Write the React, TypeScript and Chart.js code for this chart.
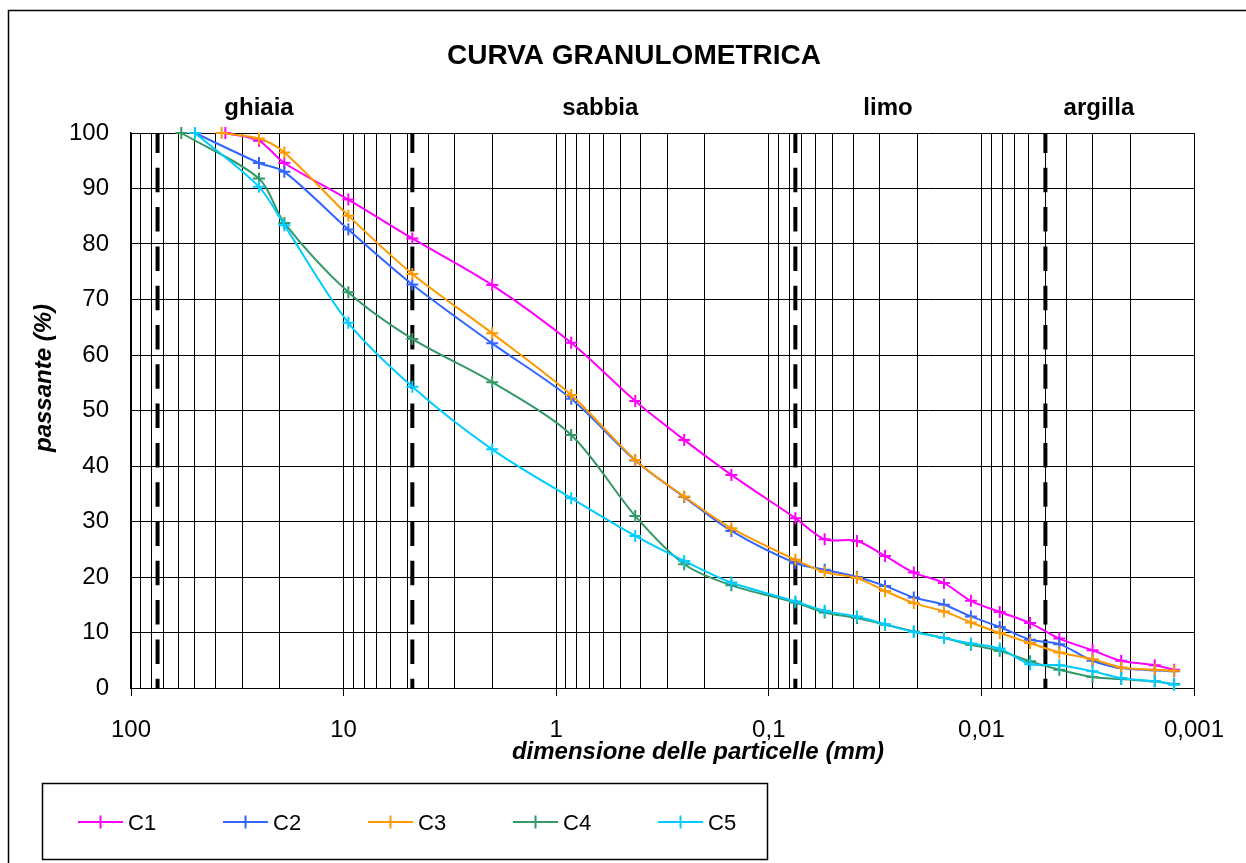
import React, { useEffect, useRef } from 'react';
import { Chart, registerables } from 'chart.js';

Chart.register(...registerables);

const FONT = '"Liberation Sans", Arial, Helvetica, sans-serif';

const chartTitle = 'CURVA GRANULOMETRICA';
const xAxisTitle = 'dimensione delle particelle (mm)';
const yAxisTitle = 'passante (%)';

const seriesNames = ['C1', 'C2', 'C3', 'C4', 'C5'];
const seriesColors = ['#FF00FF', '#3366FF', '#FF9900', '#339966', '#00CCFF'];

// particle size (mm) of the first point (100 % passing) of each series
const firstSizes = [36, 50, 37.5, 58, 50];
// sieve sizes (mm)
const sieveSizes = [25, 19, 9.5, 4.75, 2, 0.85, 0.425, 0.25, 0.15, 0.075];
// sedimentation (hydrometer) sizes (mm)
const hydroSizes = [0.0546, 0.0385, 0.0284, 0.0208, 0.015, 0.0112, 0.0082, 0.0059, 0.0043, 0.003, 0.0022, 0.00153, 0.00124];

// passing percentages: first point, sieves, hydrometer
const c1 = [100, 98.6, 94.6, 88.0, 81.0, 72.6, 62.2, 51.7, 44.7, 38.4, 30.6, 26.8, 26.5, 23.8, 20.8, 18.9, 15.7, 13.7, 11.7, 8.9, 6.8, 4.9, 4.1, 3.3];
const c2 = [100, 94.6, 93.0, 82.6, 72.7, 62.1, 52.1, 41.0, 34.4, 28.3, 22.5, 21.3, 20.0, 18.4, 16.3, 15.0, 12.9, 11.0, 8.7, 7.9, 4.9, 3.6, 3.2, 3.0];
const c3 = [100, 99.0, 96.5, 85.1, 74.6, 63.9, 52.8, 41.1, 34.5, 28.8, 23.1, 20.9, 19.8, 17.5, 15.3, 13.8, 11.8, 9.9, 8.1, 6.4, 5.2, 3.7, 3.3, 3.1];
const c4 = [100, 91.8, 83.8, 71.3, 62.9, 55.1, 45.6, 31.0, 22.3, 18.5, 15.4, 13.6, 12.6, 11.4, 10.2, 9.0, 7.8, 6.7, 4.8, 3.3, 2.0, 1.6, 1.2, 0.7];
const c5 = [100, 90.3, 83.4, 65.8, 54.3, 43.0, 34.2, 27.4, 22.9, 19.0, 15.6, 13.9, 12.9, 11.5, 10.1, 9.0, 8.0, 7.1, 4.3, 4.1, 3.0, 1.8, 1.2, 0.6];
const seriesValues = [c1, c2, c3, c4, c5];

// class boundaries (mm): ghiaia / sabbia / limo / argilla
const limitSizes = [75, 4.75, 0.075, 0.005];
const zoneLabels = ['ghiaia', 'sabbia', 'limo', 'argilla'];
const zoneLabelSizes = [25, 0.62, 0.0275, 0.0028];

// decade tick labels of the x axis
const decadeValues = [100, 10, 1, 0.1, 0.01, 0.001];
const decadeLabels = ['100', '10', '1', '0,1', '0,01', '0,001'];
const minorSteps = [1, 2, 3, 4, 5, 6, 7, 8, 9];

const gridValues: number[] = [100];
decadeValues.slice(1).forEach((d) => {
  minorSteps.forEach((k) => gridValues.push(Number((k * d).toPrecision(10))));
});

const isDecade = (v: number) => decadeValues.findIndex((d) => Math.abs(d - v) / d < 1e-6);

const extrasPlugin = {
  id: 'extras',
  afterDraw(chart: any) {
    const { ctx } = chart;
    const xs = chart.scales.x;
    ctx.save();
    // outer frame
    ctx.strokeStyle = '#000';
    ctx.lineWidth = 1.5;
    ctx.strokeRect(8.5, 10.5, 1400, 1000);

    ctx.fillStyle = '#000';
    ctx.textAlign = 'center';
    ctx.textBaseline = 'alphabetic';
    ctx.font = `bold 28px ${FONT}`;
    ctx.fillText(chartTitle, 634, 64);

    ctx.font = `bold 24px ${FONT}`;
    zoneLabels.forEach((t, i) => {
      ctx.fillText(t, xs.getPixelForValue(zoneLabelSizes[i]), 115);
    });

    ctx.font = `italic bold 24px ${FONT}`;
    ctx.fillText(xAxisTitle, 698, 759);

    ctx.save();
    ctx.translate(51, 378);
    ctx.rotate(-Math.PI / 2);
    ctx.fillText(yAxisTitle, 0, 0);
    ctx.restore();

    // legend
    ctx.lineWidth = 1.5;
    ctx.strokeStyle = '#000';
    ctx.strokeRect(42.5, 783.5, 725, 76);
    const ly = 822;
    seriesNames.forEach((name, i) => {
      const x0 = 78 + 145 * i;
      ctx.strokeStyle = seriesColors[i];
      ctx.lineWidth = 2;
      ctx.beginPath();
      ctx.moveTo(x0, ly);
      ctx.lineTo(x0 + 45, ly);
      ctx.moveTo(x0 + 22.5, ly - 6.5);
      ctx.lineTo(x0 + 22.5, ly + 6.5);
      ctx.stroke();
      ctx.fillStyle = '#000';
      ctx.textAlign = 'left';
      ctx.font = `22px ${FONT}`;
      ctx.fillText(name, x0 + 50, ly + 8);
    });
    ctx.restore();
  },
};

export default function App() {
  const canvasRef = useRef<HTMLCanvasElement | null>(null);

  useEffect(() => {
    if (!canvasRef.current) return;
    Chart.defaults.font.family = FONT;
    Chart.defaults.color = '#000';

    const seriesDatasets = seriesNames.map((name, i) => {
      const sizes = [firstSizes[i], ...sieveSizes, ...hydroSizes];
      return {
        label: name,
        data: seriesValues[i].map((v, j) => ({ x: sizes[j], y: v })),
        borderColor: seriesColors[i],
        backgroundColor: seriesColors[i],
        borderWidth: 2,
        pointStyle: 'cross',
        pointRadius: 6,
        pointBorderWidth: 2,
        pointBorderColor: seriesColors[i],
        tension: 0.3,
        fill: false,
        clip: false,
        order: 5 - i,
      };
    });

    const limitDatasets = limitSizes.map((s) => ({
      label: 'limit ' + s,
      data: [
        { x: s, y: 100 },
        { x: s, y: 0 },
      ],
      borderColor: '#000',
      borderWidth: 4,
      borderDash: [24.5, 14.8],
      borderDashOffset: 4.5,
      pointRadius: 0,
      tension: 0,
      fill: false,
      order: 10,
    }));

    const chart = new Chart(canvasRef.current, {
      type: 'line',
      data: { datasets: [...seriesDatasets, ...limitDatasets] as any },
      options: {
        animation: false,
        responsive: true,
        maintainAspectRatio: false,
        events: [],
        layout: { padding: { top: 133, right: 52, left: 0, bottom: 0 } },
        plugins: { legend: { display: false }, title: { display: false }, tooltip: { enabled: false } },
        scales: {
          x: {
            type: 'logarithmic',
            reverse: true,
            min: 0.001,
            max: 100,
            afterBuildTicks: (scale: any) => {
              scale.ticks = gridValues.map((v) => ({ value: v }));
            },
            afterFit: (scale: any) => {
              scale.height = 175;
            },
            ticks: {
              autoSkip: false,
              maxRotation: 0,
              minRotation: 0,
              padding: 20,
              font: { size: 24 },
              color: '#000',
              callback: (value: any) => {
                const idx = isDecade(Number(value));
                return idx >= 0 ? decadeLabels[idx] : '';
              },
            },
            grid: {
              color: '#000',
              lineWidth: 1,
              tickLength: 8,
              tickColor: (ctx: any) => (ctx.tick && isDecade(ctx.tick.value) >= 0 ? '#000' : 'rgba(0,0,0,0)'),
            },
            border: { display: true, color: '#000', width: 1 },
          },
          y: {
            type: 'linear',
            min: 0,
            max: 100,
            afterFit: (scale: any) => {
              scale.width = 131;
            },
            ticks: { stepSize: 10, padding: 22, font: { size: 24 }, color: '#000' },
            grid: { color: '#000', lineWidth: 1, drawTicks: false },
            border: { display: true, color: '#000', width: 1.5 },
          },
        },
      } as any,
      plugins: [extrasPlugin],
    });
    return () => chart.destroy();
  }, []);

  return (
    <div style={{ position: 'fixed', left: 0, top: 0, width: 1246, height: 863, background: '#fff' }}>
      <canvas ref={canvasRef} />
    </div>
  );
}
